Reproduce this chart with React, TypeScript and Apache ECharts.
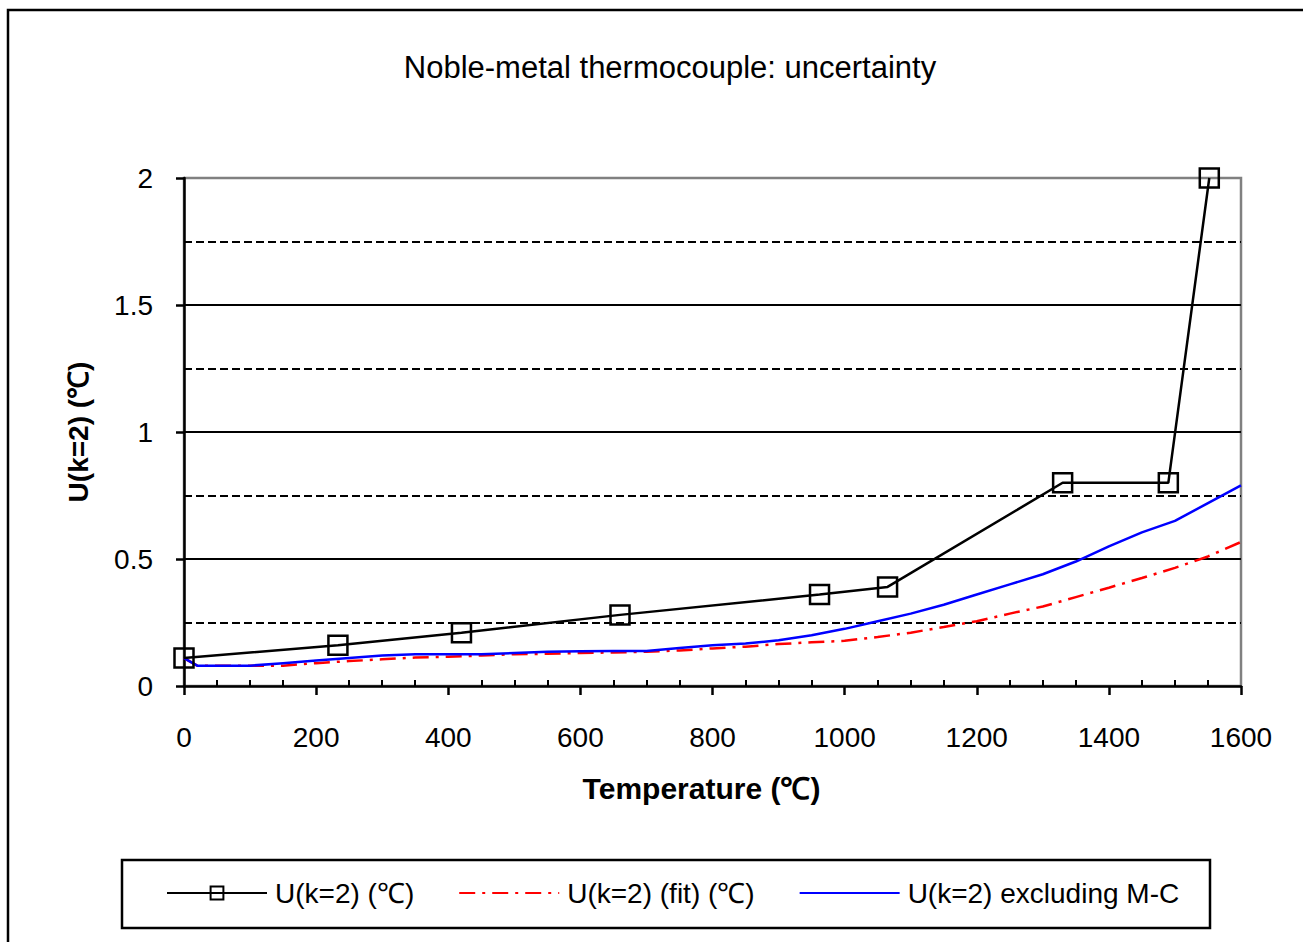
import React, { useEffect, useRef } from "react";
import * as echarts from "echarts";

const titleText = "Noble-metal thermocouple: uncertainty";
const xAxisName = "Temperature (℃)";
const yAxisName = "U(k=2) (℃)";
const seriesNames = ["U(k=2) (℃)", "U(k=2) (fit) (℃)", "U(k=2) excluding M-C"];

// Measured points (black, squares)
const measuredT = [0, 233, 420, 660, 962, 1065, 1330, 1490, 1552];
const measuredU = [0.11, 0.16, 0.21, 0.28, 0.36, 0.39, 0.8, 0.8, 2.0];

// Fit curve (red dash-dot)
const fitT = [0, 20, 50, 100, 150, 200, 250, 300, 350, 400, 450, 500, 550, 600, 650, 700, 750, 800, 850, 900, 950, 1000, 1050, 1100, 1150, 1200, 1250, 1300, 1350, 1400, 1450, 1500, 1550, 1600];
const fitU = [0.11, 0.08, 0.08, 0.08, 0.08, 0.09, 0.098, 0.105, 0.112, 0.115, 0.12, 0.125, 0.127, 0.13, 0.132, 0.135, 0.14, 0.148, 0.155, 0.165, 0.172, 0.178, 0.193, 0.21, 0.232, 0.255, 0.285, 0.313, 0.35, 0.387, 0.425, 0.465, 0.51, 0.567];

// Excluding M-C (blue)
const exclT = [0, 20, 50, 100, 150, 200, 250, 300, 350, 400, 450, 500, 550, 600, 650, 700, 750, 800, 850, 900, 950, 1000, 1050, 1100, 1150, 1200, 1250, 1300, 1350, 1400, 1450, 1500, 1550, 1600];
const exclU = [0.11, 0.08, 0.08, 0.08, 0.09, 0.1, 0.11, 0.12, 0.125, 0.125, 0.125, 0.13, 0.135, 0.137, 0.138, 0.138, 0.15, 0.16, 0.167, 0.18, 0.2, 0.225, 0.255, 0.285, 0.32, 0.36, 0.4, 0.44, 0.49, 0.55, 0.605, 0.65, 0.72, 0.79];

const FONT = "Liberation Sans, Arial, sans-serif";

const zip = (xs: number[], ys: number[]) => xs.map((x, i) => [x, ys[i]]);

export default function App() {
  const ref = useRef<HTMLDivElement>(null);
  useEffect(() => {
    if (!ref.current) return;
    const chart = echarts.init(ref.current, undefined, { renderer: "svg" });
    chart.setOption({
      animation: false,
      backgroundColor: "#fff",
      title: {
        text: titleText,
        left: 665,
        top: 47,
        textAlign: "center",
        textStyle: { fontFamily: FONT, fontSize: 31, fontWeight: "normal", color: "#000" },
      },
      graphic: [
        {
          type: "rect",
          shape: { x: 8, y: 10, width: 1320, height: 960 },
          style: { fill: "none", stroke: "#000", lineWidth: 2.5 },
          silent: true,
          z: -1,
        },
        {
          type: "rect",
          shape: { x: 122, y: 860, width: 1088, height: 68 },
          style: { fill: "none", stroke: "#000", lineWidth: 2.5 },
          silent: true,
        },
      ],
      legend: {
        left: 166,
        top: 879,
        padding: 0,
        itemWidth: 100,
        itemHeight: 16,
        itemGap: 44,
        textStyle: { fontFamily: FONT, fontSize: 28, color: "#000", padding: [0, 0, 0, 3] },
        data: [
          { name: seriesNames[0] },
          { name: seriesNames[1], itemStyle: { opacity: 0 } },
          { name: seriesNames[2], itemStyle: { opacity: 0 } },
        ],
      },
      grid: {
        left: 184,
        right: 62,
        top: 178,
        bottom: 256,
        show: true,
        borderColor: "#808080",
        borderWidth: 2.5,
        backgroundColor: "transparent",
      },
      xAxis: {
        type: "value",
        min: 0,
        max: 1600,
        interval: 200,
        name: xAxisName,
        nameLocation: "middle",
        nameGap: 87,
        nameTextStyle: {
          fontFamily: FONT,
          fontSize: 30,
          fontWeight: "bold",
          color: "#000",
          padding: [0, 22, 0, 0],
        },
        axisLine: { show: true, lineStyle: { color: "#000", width: 2.5 } },
        axisTick: { show: true, length: 9, lineStyle: { color: "#000", width: 2.5 } },
        minorTick: { show: true, splitNumber: 4, length: -6, lineStyle: { color: "#000", width: 2 } },
        axisLabel: {
          margin: 37,
          fontFamily: FONT,
          fontSize: 28,
          color: "#000",
          formatter: (v: number) => String(v),
        },
        splitLine: { show: false },
      },
      yAxis: {
        type: "value",
        min: 0,
        max: 2,
        interval: 0.5,
        name: yAxisName,
        nameLocation: "middle",
        nameGap: 92,
        nameTextStyle: { fontFamily: FONT, fontSize: 28, fontWeight: "bold", color: "#000" },
        axisLine: { show: true, lineStyle: { color: "#000", width: 2.5 } },
        axisTick: { show: true, length: 8, lineStyle: { color: "#000", width: 2.5 } },
        minorTick: { show: false, splitNumber: 2 },
        minorSplitLine: { show: true, lineStyle: { color: "#000", width: 2, type: [8, 4] } },
        axisLabel: {
          margin: 31,
          fontFamily: FONT,
          fontSize: 28,
          color: "#000",
          formatter: (v: number) => String(v),
        },
        splitLine: { show: true, showMinLine: false, showMaxLine: false, lineStyle: { color: "#000", width: 2 } },
      },
      series: [
        {
          name: seriesNames[0],
          type: "line",
          data: zip(measuredT, measuredU),
          symbol: "rect",
          symbolSize: 19,
          showSymbol: true,
          lineStyle: { color: "#000", width: 2.5 },
          itemStyle: { color: "rgba(0,0,0,0)", borderColor: "#000", borderWidth: 2.5 },
          z: 5,
        },
        {
          name: seriesNames[1],
          type: "line",
          data: zip(fitT, fitU),
          showSymbol: false,
          symbol: "none",
          lineStyle: { color: "#ff0000", width: 2.5, type: [16, 7, 3, 7] },
          itemStyle: { color: "#ff0000" },
          z: 3,
        },
        {
          name: seriesNames[2],
          type: "line",
          data: zip(exclT, exclU),
          showSymbol: false,
          symbol: "none",
          lineStyle: { color: "#0000ff", width: 2.5 },
          itemStyle: { color: "#0000ff" },
          z: 4,
        },
      ],
    });
    return () => chart.dispose();
  }, []);
  return (
    <div
      ref={ref}
      style={{ position: "fixed", left: 0, top: 0, width: 1303, height: 942 }}
    />
  );
}
